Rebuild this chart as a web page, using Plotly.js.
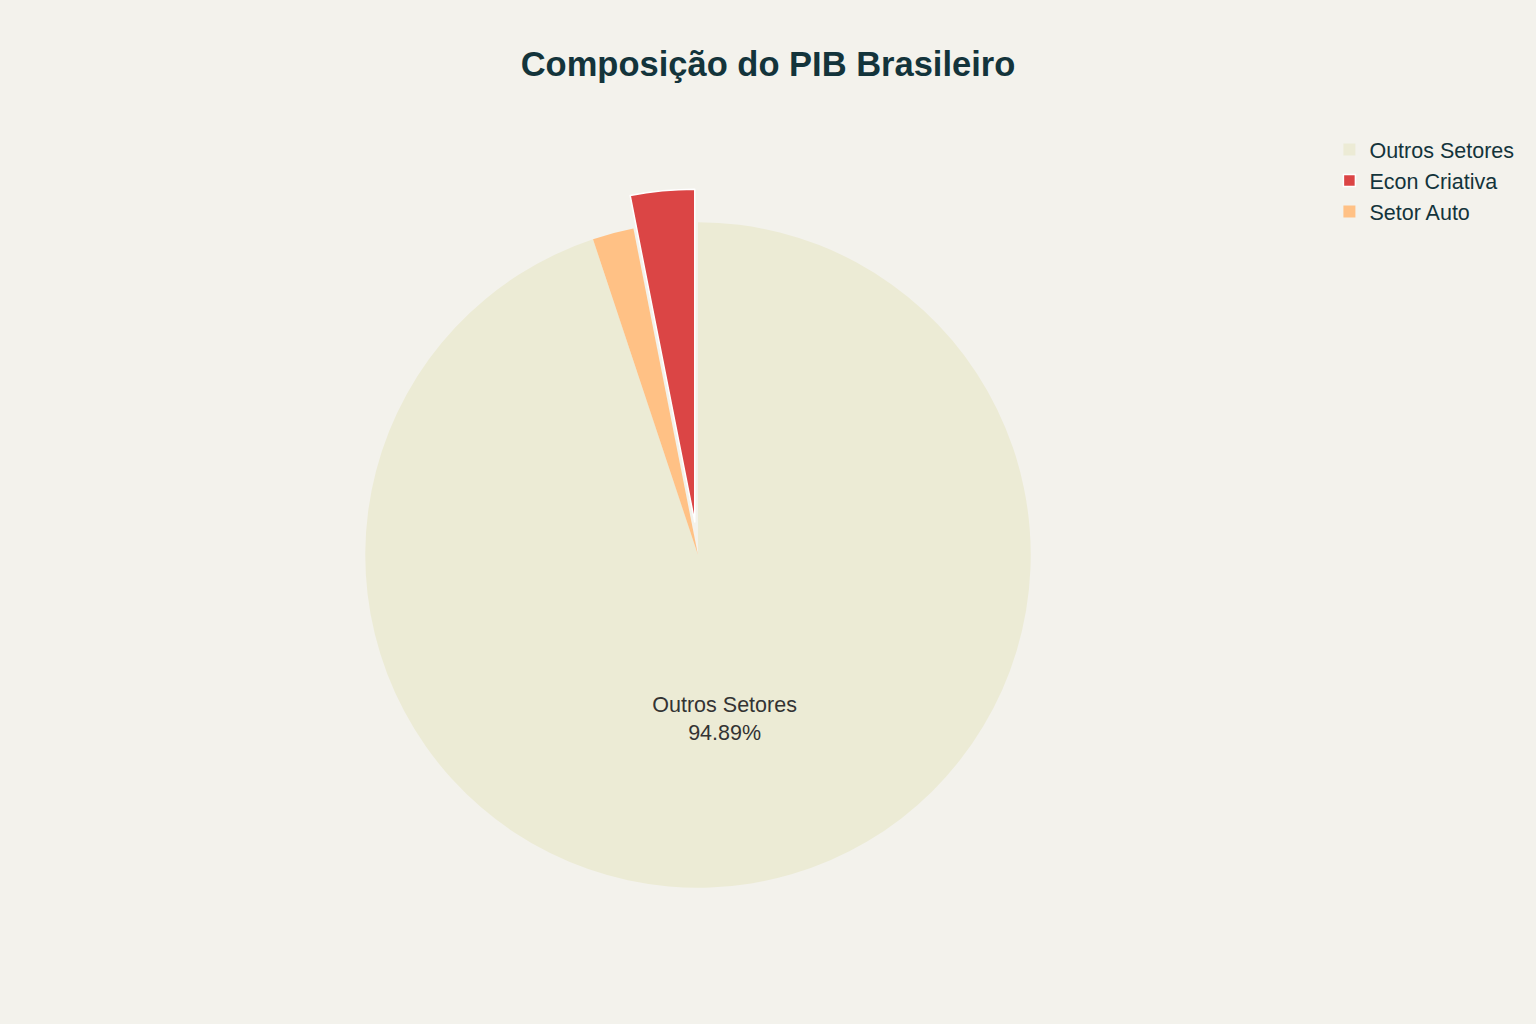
<!DOCTYPE html>
<html>
<head>
<meta charset="utf-8">
<script src="https://cdn.plot.ly/plotly-3.0.1.min.js"></script>
<style>
  html, body { margin: 0; padding: 0; background: #F3F2EC; }
  #chart { width: 1536px; height: 1024px; }
</style>
</head>
<body>
<div id="chart"></div>
<script>
const sectors = ["Outros Setores", "Econ Criativa", "Setor Auto"];
const shares = [94.89, 3.11, 2.0];
const sliceColors = ["#ECEBD5", "#DB4545", "#FFC185"];
const pulls = [0, 0.1, 0];
const edgeWidths = [0, 1.5, 0];

const fontFamily = '"Liberation Sans", Arial, sans-serif';

var data = [{
  type: "pie",
  labels: sectors,
  values: shares,
  pull: pulls,
  marker: { colors: sliceColors, line: { color: "#FFFFFF", width: edgeWidths } },
  texttemplate: "%{label}<br>%{percent:.2%}",
  // only the big slice carries a label
  textposition: ["inside", "none", "none"],
  insidetextfont: { family: fontFamily, size: 21.5, color: "#333333" },
  hoverinfo: "label+percent"
}];

var layout = {
  width: 1536,
  height: 1024,
  paper_bgcolor: "#F3F2EC",
  plot_bgcolor: "#F3F2EC",
  font: { family: fontFamily, color: "#13343B" },
  title: {
    text: "<b>Composição do PIB Brasileiro</b>",
    font: { family: fontFamily, size: 34.5, color: "#13343B" },
    x: 0.5, xanchor: "center",
    y: 0.938, yref: "container", yanchor: "middle"
  },
  showlegend: true,
  legend: {
    xref: "container", yref: "container",
    x: 0.8655, xanchor: "left",
    y: 0.874, yanchor: "top",
    font: { family: fontFamily, size: 21.5, color: "#13343B" },
    bgcolor: "rgba(0,0,0,0)"
  },
  margin: { l: 80, r: 220, t: 189, b: 103 }
};

Plotly.newPlot("chart", data, layout, { displayModeBar: false });
</script>
</body>
</html>
